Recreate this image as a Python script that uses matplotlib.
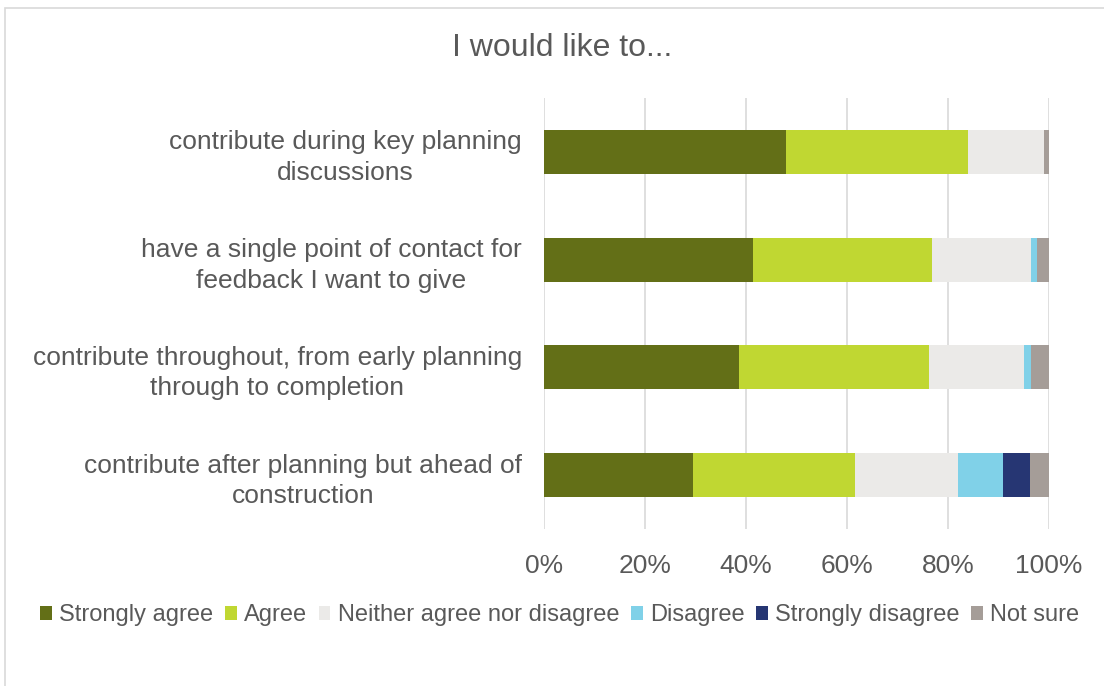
import numpy as np
import matplotlib
matplotlib.use("Agg")
import matplotlib.pyplot as plt
from matplotlib.patches import Rectangle

plt.rcParams['font.family'] = ['Liberation Sans', 'DejaVu Sans']

# ─── Data (percent of respondents) ────────────────────────────────────────────
categories = [
    'contribute during key planning\ndiscussions',
    'have a single point of contact for\nfeedback I want to give',
    'contribute throughout, from early planning\nthrough to completion',
    'contribute after planning but ahead of\nconstruction',
]
responses = ['Strongly agree', 'Agree', 'Neither agree nor disagree',
             'Disagree', 'Strongly disagree', 'Not sure']
strongly_agree    = [47.9, 41.4, 38.7, 29.4]
agree             = [36.1, 35.4, 37.6, 32.2]
neither           = [15.0, 19.6, 18.8, 20.4]
disagree          = [0.0, 1.3, 1.3, 8.9]
strongly_disagree = [0.0, 0.0, 0.0, 5.3]
not_sure          = [1.0, 2.3, 3.6, 3.8]

series = [strongly_agree, agree, neither, disagree, strongly_disagree, not_sure]
colors = ['#636f17', '#c0d732', '#ebeae8', '#80d1e8', '#263673', '#a59d98']
TEXT = '#595959'

fig = plt.figure(figsize=(11.04, 6.86), dpi=100)
ax = fig.add_axes([0.4928, 0.2289, 0.4574, 0.6283])

y = np.arange(len(categories))
left = np.zeros(len(categories))
for name, vals, col in zip(responses, series, colors):
    vals = np.array(vals)
    ax.barh(y, vals, left=left, height=0.41, color=col, label=name, zorder=3)
    left += vals

ax.set_ylim(len(categories) - 0.5, -0.5)
ax.set_xlim(0, 100)
ax.set_xticks(np.arange(0, 101, 20))
ax.set_xticklabels([f'{v}%' for v in range(0, 101, 20)])
ax.set_yticks(y)
ax.set_yticklabels(categories, multialignment='center', linespacing=1.34)
ax.tick_params(axis='x', length=0, pad=18, labelsize=19, labelcolor=TEXT)
ax.tick_params(axis='y', length=0, pad=16, labelsize=19, labelcolor=TEXT)
ax.grid(axis='x', color='#d9d9d9', linewidth=1.2, zorder=0)
for s in ax.spines.values():
    s.set_visible(False)

fig.text(0.5095, 0.93, 'I would like to...', ha='center', va='center',
         fontsize=23, color=TEXT)

fig.legend(loc='center', bbox_to_anchor=(0.507, 0.103), ncol=6, frameon=False,
           fontsize=17, labelcolor=TEXT, handlelength=0.5, handleheight=0.5,
           handletextpad=0.3, columnspacing=0.5, borderaxespad=0)

# chart border
fig.patches.append(Rectangle((5 / 1104, -0.1), 1.2, 1 - 8 / 686 + 0.1,
                             transform=fig.transFigure, fill=False,
                             edgecolor='#d9d9d9', linewidth=1.2))

plt.savefig('out.png', dpi=100)
